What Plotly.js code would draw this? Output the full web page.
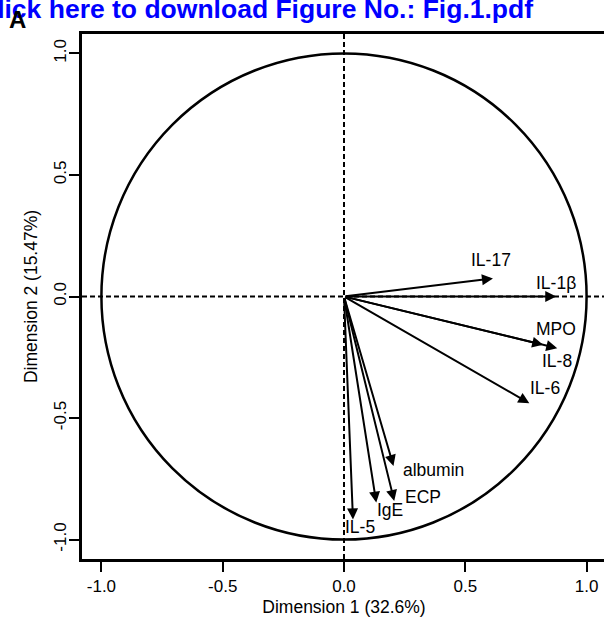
<!DOCTYPE html>
<html>
<head>
<meta charset="utf-8">
<script src="https://cdn.plot.ly/plotly-3.0.1.min.js"></script>
<style>
  html, body { margin: 0; padding: 0; overflow: hidden; background: #fff; }
  #chart { width: 606px; height: 619px; }
</style>
</head>
<body>
<div id="chart"></div>
<script>
// ---- data ----
const variables = ['IL-17', 'IL-1β', 'MPO', 'IL-8', 'IL-6', 'albumin', 'ECP', 'IgE', 'IL-5'];
const dim1 = [0.614, 0.875, 0.821, 0.879, 0.764, 0.204, 0.207, 0.133, 0.037];
const dim2 = [0.074, 0.000, -0.199, -0.213, -0.439, -0.697, -0.841, -0.848, -0.917];
// label anchor positions (data units)
const labelX = [0.605, 0.874, 0.872, 0.880, 0.828, 0.369, 0.325, 0.190, 0.067];
const labelY = [0.152, 0.054, -0.134, -0.267, -0.376, -0.713, -0.823, -0.880, -0.948];
const tickVals = [-1.0, -0.5, 0.0, 0.5, 1.0];
const tickText = ['-1.0', '-0.5', '0.0', '0.5', '1.0'];
const xTitle = 'Dimension 1 (32.6%)';
const yTitle = 'Dimension 2 (15.47%)';
const headerText = 'Click here to download Figure No.: Fig.1.pdf';
const panelLetter = 'A';
const circleRadius = 1;

const FONT = 'Liberation Sans, Arial, Helvetica, sans-serif';
const annotations = [];

// header (blue link text) and panel letter
annotations.push({
  xref: 'paper', yref: 'paper', x: (535 - 82) / 524, y: (559 - 9) / 525,
  xanchor: 'right', yanchor: 'middle', showarrow: false,
  text: '<b>' + headerText + '</b>',
  font: {family: FONT, size: 26.5, color: '#0000FF'}
});
annotations.push({
  xref: 'paper', yref: 'paper', x: (17 - 82) / 524, y: (559 - 19) / 525,
  xanchor: 'center', yanchor: 'middle', showarrow: false,
  text: '<b>' + panelLetter + '</b>',
  font: {family: FONT, size: 24, color: '#000000'}
});

// arrows from origin to each variable
variables.forEach((v, i) => {
  annotations.push({
    x: dim1[i], y: dim2[i], xref: 'x', yref: 'y',
    ax: 0, ay: 0, axref: 'x', ayref: 'y',
    showarrow: true, text: '',
    arrowhead: 2, arrowsize: 1.1, arrowwidth: 2, arrowcolor: '#000',
    standoff: 0, startstandoff: 0
  });
  annotations.push({
    x: labelX[i], y: labelY[i], xref: 'x', yref: 'y',
    showarrow: false, text: v,
    xanchor: 'center', yanchor: 'middle',
    font: {family: FONT, size: 17.5, color: '#000'}
  });
});

const shapes = [
  {type: 'circle', xref: 'x', yref: 'y', x0: -circleRadius, x1: circleRadius,
   y0: -circleRadius, y1: circleRadius, line: {color: '#000', width: 2.5}, layer: 'below'},
  {type: 'line', xref: 'x', yref: 'paper', x0: 0, x1: 0, y0: 0, y1: 1,
   line: {color: '#000', width: 2, dash: '5px,3px'}, layer: 'below'},
  {type: 'line', xref: 'paper', yref: 'y', x0: 0, x1: 1, y0: 0, y1: 0,
   line: {color: '#000', width: 2, dash: '5px,3px'}, layer: 'below'}
];

const axisCommon = {
  range: [-1.08, 1.08], tickvals: tickVals, ticktext: tickText,
  showgrid: false, zeroline: false,
  showline: true, linecolor: '#000', linewidth: 3, mirror: true,
  ticks: 'outside', ticklen: 10, tickwidth: 2, tickcolor: '#000',
  tickfont: {family: FONT, size: 17, color: '#000'}
};

const layout = {
  width: 606, height: 619,
  margin: {l: 82, r: 0, t: 34, b: 60},
  paper_bgcolor: '#fff', plot_bgcolor: '#fff',
  showlegend: false,
  xaxis: Object.assign({}, axisCommon, {
    title: {text: xTitle, font: {family: FONT, size: 17.5, color: '#000'}, standoff: 6}
  }),
  yaxis: Object.assign({}, axisCommon, {
    tickangle: -90,
    ticklabelstandoff: -4,
    title: {text: yTitle, font: {family: FONT, size: 17.5, color: '#000'}, standoff: 10}
  }),
  shapes: shapes,
  annotations: annotations
};

Plotly.newPlot('chart', [{x: [], y: [], type: 'scatter', mode: 'markers', hoverinfo: 'skip'}], layout,
  {staticPlot: true, displayModeBar: false});
</script>
</body>
</html>
